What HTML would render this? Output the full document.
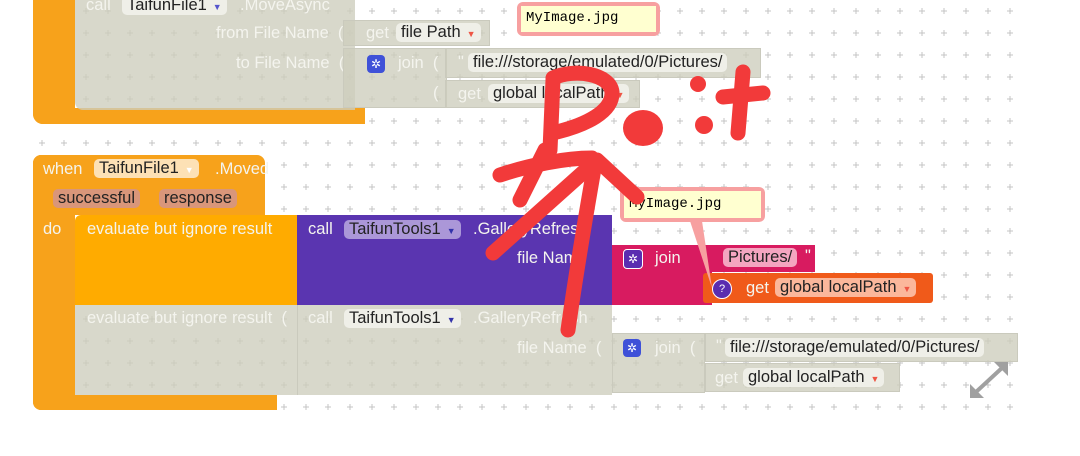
<!DOCTYPE html>
<html><head><meta charset="utf-8"><style>
body{margin:0;width:1080px;height:456px;background:#fff;position:relative;overflow:hidden;font-family:"Liberation Sans",sans-serif;font-size:16.5px}
.a{position:absolute;box-sizing:border-box}
.g{background:rgba(205,205,188,0.78)}
.t{position:absolute;white-space:nowrap}
.w{color:#f4f4ee}
.f{position:absolute;background:#efefe8;border-radius:5px;padding:0 5px;color:#222;white-space:nowrap}
.arr{font-size:9px;margin-left:6px}
.ic{position:absolute;width:18px;height:18px;border-radius:4px;background:#3f51d8;color:#fff;font-size:12px;text-align:center;line-height:18px}
.mono{font-family:"Liberation Mono",monospace;font-size:14px}
</style></head><body>
<svg class="a" style="left:0;top:0" width="1080" height="456">
<defs><pattern id="p" x="9" y="0" width="22" height="22" patternUnits="userSpaceOnUse"><path d="M11 8v6M8 11h6" stroke="#c4c4c4" stroke-width="1"/></pattern></defs>
<rect x="30" y="0" width="988" height="418" fill="url(#p)"/>
</svg>

<!-- top block -->
<div class="a" style="left:33px;top:0;width:42px;height:124px;background:#f7a21b;border-radius:0 0 0 10px"></div>
<div class="a" style="left:33px;top:108px;width:332px;height:16px;background:#f7a21b;border-radius:0 0 0 10px"></div>
<div class="a g" style="left:75px;top:0;width:280px;height:110px;border-radius:0 0 0 8px"></div>
<div class="t w" style="left:86px;top:-4px">call</div>
<div class="f" style="left:122px;top:-4px">TaifunFile1<span class="arr" style="color:#55c">▼</span></div>
<div class="t w" style="left:240px;top:-4px">.MoveAsync</div>
<div class="t w" style="left:216px;top:24px">from File Name&nbsp;&nbsp;(</div>
<div class="t w" style="left:236px;top:54px">to File Name&nbsp;&nbsp;(</div>
<div class="a g" style="left:343px;top:20px;width:147px;height:26px;border:1px solid #cacabd"></div>
<div class="t w" style="left:366px;top:24px">get</div>
<div class="f" style="left:396px;top:23px">file Path<span class="arr" style="color:#e54">▼</span></div>
<div class="a g" style="left:343px;top:48px;width:104px;height:60px;border:1px solid #cacabd"></div>
<div class="ic" style="left:367px;top:55px">✲</div>
<div class="t w" style="left:398px;top:54px">join&nbsp;&nbsp;(</div>
<div class="a g" style="left:445px;top:48px;width:316px;height:30px;border:1px solid #cacabd"></div>
<div class="t w" style="left:458px;top:53px">"</div>
<div class="f" style="left:468px;top:53px">file:///storage/emulated/0/Pictures/</div>
<div class="t w" style="left:433px;top:84px">(</div>
<div class="a g" style="left:445px;top:80px;width:195px;height:28px;border:1px solid #cacabd"></div>
<div class="t w" style="left:458px;top:85px">get</div>
<div class="f" style="left:488px;top:84px">global localPath<span class="arr" style="color:#e54">▼</span></div>
<div class="a" style="left:517px;top:2px;width:143px;height:34px;background:#f7a0a0;border-radius:6px;padding:4px"><div class="mono" style="background:#ffffd0;height:26px;padding:4px 5px;box-sizing:border-box">MyImage.jpg</div></div>

<!-- second block -->
<div class="a" style="left:33px;top:155px;width:232px;height:60px;background:#f7a21b;border-radius:8px 8px 0 0"></div>
<div class="a" style="left:33px;top:155px;width:42px;height:255px;background:#f7a21b;border-radius:8px 0 0 8px"></div>
<div class="a" style="left:33px;top:395px;width:244px;height:15px;background:#f7a21b;border-radius:0 0 0 8px"></div>
<div class="t w" style="left:43px;top:160px">when</div>
<div class="f" style="left:94px;top:159px;background:#fde1b5">TaifunFile1<span class="arr" style="color:#fff">▼</span></div>
<div class="t w" style="left:215px;top:160px">.Moved</div>
<div class="f" style="left:53px;top:189px;background:#d9967a">successful</div>
<div class="f" style="left:159px;top:189px;background:#d9967a">response</div>
<div class="t w" style="left:43px;top:220px">do</div>
<div class="a" style="left:75px;top:215px;width:222px;height:90px;background:#ffab00;border-radius:6px 0 0 0"></div>
<div class="t w" style="left:87px;top:220px">evaluate but ignore result</div>
<div class="a" style="left:297px;top:215px;width:315px;height:90px;background:#5a35b0"></div>
<div class="t w" style="left:308px;top:220px">call</div>
<div class="f" style="left:344px;top:220px;background:#ab97d8">TaifunTools1<span class="arr" style="color:#33a">▼</span></div>
<div class="t w" style="left:473px;top:220px">.GalleryRefresh</div>
<div class="t w" style="left:517px;top:249px">file Name</div>
<div class="a" style="left:612px;top:245px;width:100px;height:60px;background:#d81b60"></div>
<div class="ic" style="left:623px;top:249px;background:#5a2db0;border:1px solid #fff">✲</div>
<div class="t w" style="left:655px;top:249px">join</div>
<div class="a" style="left:712px;top:245px;width:103px;height:27px;background:#d81b60"></div>
<div class="f" style="left:723px;top:248px;background:#f4a5c0">Pictures/</div>
<div class="t w" style="left:805px;top:247px">"</div>
<div class="a" style="left:703px;top:273px;width:230px;height:30px;background:#f05a1a;border-radius:3px"></div>
<div class="a" style="left:712px;top:279px;width:20px;height:20px;border-radius:50%;background:#5a2db0;border:1px solid #fff;color:#fff;font-size:11px;text-align:center;line-height:18px">?</div>
<div class="t w" style="left:746px;top:279px">get</div>
<div class="f" style="left:775px;top:278px;background:#fbb79b">global localPath<span class="arr" style="color:#e54">▼</span></div>
<div class="a" style="left:620px;top:187px;width:145px;height:35px;background:#f7a0a0;border-radius:6px;padding:4px"><div class="mono" style="background:#ffffd0;height:27px;padding:5px 5px;box-sizing:border-box">MyImage.jpg</div></div>
<svg class="a" style="left:0;top:0" width="1080" height="456"><polygon points="690,221 702,221 712,288" fill="#f7a0a0"/></svg>

<div class="a g" style="left:75px;top:305px;width:222px;height:90px"></div>
<div class="t w" style="left:87px;top:309px">evaluate but ignore result&nbsp;&nbsp;(</div>
<div class="a g" style="left:297px;top:305px;width:315px;height:90px;border-left:1px solid #cacabd"></div>
<div class="t w" style="left:308px;top:309px">call</div>
<div class="f" style="left:344px;top:309px">TaifunTools1<span class="arr" style="color:#33a">▼</span></div>
<div class="t w" style="left:473px;top:309px">.GalleryRefresh</div>
<div class="t w" style="left:517px;top:339px">file Name&nbsp;&nbsp;(</div>
<div class="a g" style="left:612px;top:333px;width:93px;height:60px;border:1px solid #cacabd"></div>
<div class="ic" style="left:623px;top:339px">✲</div>
<div class="t w" style="left:655px;top:339px">join&nbsp;&nbsp;(</div>
<div class="a g" style="left:705px;top:333px;width:313px;height:29px;border:1px solid #cacabd"></div>
<div class="t w" style="left:716px;top:337px">"</div>
<div class="f" style="left:725px;top:338px">file:///storage/emulated/0/Pictures/</div>
<div class="a g" style="left:705px;top:363px;width:195px;height:29px;border:1px solid #cacabd"></div>
<div class="t w" style="left:715px;top:369px">get</div>
<div class="f" style="left:743px;top:368px">global localPath<span class="arr" style="color:#e54">▼</span></div>

<svg class="a" style="left:0;top:0" width="1080" height="456">
<g stroke="#a0a0a0" stroke-width="4" fill="#a0a0a0">
<line x1="976" y1="392" x2="1003" y2="367"/><polygon points="970,398 970,384 984,398" stroke="none"/><polygon points="1008,362 994,362 1008,376" stroke="none"/></g>
<g stroke="#f23a3a" stroke-width="15" fill="none" stroke-linecap="round" stroke-linejoin="round">
<path d="M553 80 L550 150"/>
<path d="M553 78 C575 68 610 74 612 92 C613 112 585 125 557 132"/>
<path d="M500 175 C530 165 565 158 592 158"/>
<path d="M493 253 L597 160 L637 197"/>
<path d="M595 163 C585 220 575 280 568 330"/>
<path d="M520 200 L545 150"/>
<path d="M743 72 L738 133"/>
<path d="M723 97 L763 93"/>
</g>
<g fill="#f23a3a"><ellipse cx="643" cy="128" rx="20" ry="18"/><circle cx="698" cy="84" r="8"/><circle cx="704" cy="125" r="9"/></g>
</svg>
</body></html>
